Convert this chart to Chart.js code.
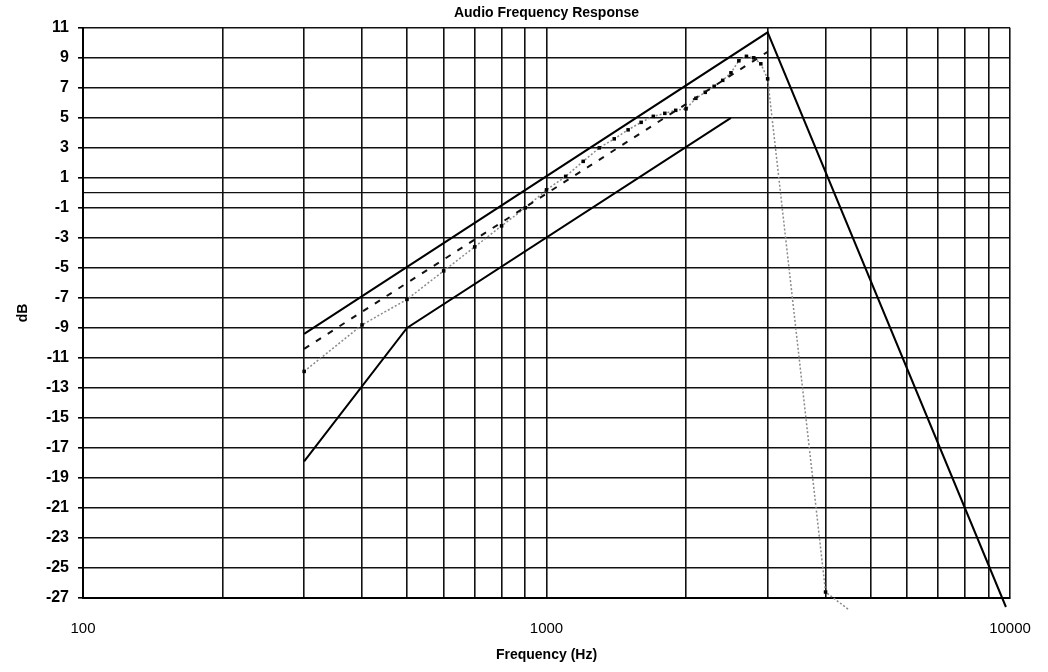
<!DOCTYPE html>
<html>
<head>
<meta charset="utf-8">
<script src="https://cdn.jsdelivr.net/npm/chart.js@4"></script>
<style>
  html, body { margin: 0; padding: 0; background: #fff; }
  #wrap { width: 1048px; height: 672px; position: relative; }
</style>
</head>
<body>
<div id="wrap"><canvas id="myChart"></canvas></div>
<script>
// values
const upperHz = [300, 3000, 9800];
const upperDb = [-9.4, 10.7, -27.6];

const lowerHz = [300, 500, 2500];
const lowerDb = [-17.9, -9.0, 5.0];

const dashedHz = [300, 3000];
const dashedDb = [-10.4, 9.4];

const measuredHz = [300, 400, 500, 600, 700, 800, 900, 1000, 1100, 1200, 1300, 1400, 1500, 1600, 1700, 1800,
  1900, 2000, 2100, 2200, 2300, 2400, 2500, 2600, 2700, 2800, 2900, 3000, 4000, 4500];
const measuredDb = [-11.9, -8.8, -7.1, -5.2, -3.6, -2.2, -1.0, 0.2, 1.1, 2.1, 3.0, 3.6, 4.2, 4.7, 5.1, 5.3,
  5.5, 5.6, 6.3, 6.7, 7.1, 7.5, 8.0, 8.8, 9.1, 9.0, 8.6, 7.6, -26.6, -27.8];

const xTicks = [100, 200, 300, 400, 500, 600, 700, 800, 900, 1000, 2000, 3000, 4000, 5000, 6000, 7000, 8000, 9000, 10000];
const xLabels = [100, 1000, 10000];
const yTicks = [-27, -25, -23, -21, -19, -17, -15, -13, -11, -9, -7, -5, -3, -1, 0, 1, 3, 5, 7, 9, 11];

const pts = (xs, ys) => xs.map((x, i) => ({ x: x, y: ys[i] }));

Chart.defaults.font.family = "'Liberation Sans', Arial, sans-serif";
Chart.defaults.color = '#000';

const ctx = document.getElementById('myChart').getContext('2d');
new Chart(ctx, {
  type: 'line',
  data: {
    datasets: [
      {
        label: 'upper',
        data: pts(upperHz, upperDb),
        borderColor: '#000',
        borderWidth: 2,
        pointRadius: 0,
        clip: false
      },
      {
        label: 'lower',
        data: pts(lowerHz, lowerDb),
        borderColor: '#000',
        borderWidth: 2,
        pointRadius: 0
      },
      {
        label: 'dashed',
        data: pts(dashedHz, dashedDb),
        borderColor: '#111',
        borderWidth: 2,
        borderDash: [6, 8],
        pointRadius: 0
      },
      {
        label: 'measured',
        data: pts(measuredHz, measuredDb),
        borderColor: '#8a8a8a',
        borderWidth: 1.5,
        borderDash: [2, 2],
        pointStyle: 'rect',
        pointRadius: measuredHz.map((f, i) => i === measuredHz.length - 1 ? 0 : 2.5),
        pointBackgroundColor: '#000',
        pointBorderColor: '#000',
        pointBorderWidth: 0,
        clip: false
      }
    ]
  },
  options: {
    responsive: true,
    maintainAspectRatio: false,
    animation: false,
    layout: { padding: { left: 0, right: 38, top: 0, bottom: 0 } },
    plugins: {
      legend: { display: false },
      tooltip: { enabled: false },
      title: {
        display: true,
        fullSize: false,
        text: 'Audio Frequency Response',
        font: { size: 14, weight: 'bold' },
        color: '#000',
        padding: { top: 5, bottom: 6 }
      }
    },
    scales: {
      x: {
        type: 'logarithmic',
        min: 100,
        max: 10000,
        afterBuildTicks: (scale) => { scale.ticks = xTicks.map(v => ({ value: v })); },
        afterFit: (scale) => {
          scale.height = 74;
          scale.paddingLeft = 0;
          scale.paddingRight = 0;
        },
        ticks: {
          autoSkip: false,
          maxRotation: 0,
          padding: 22,
          font: { size: 15 },
          callback: (v) => xLabels.includes(v) ? String(v) : ''
        },
        grid: { color: '#111', lineWidth: 1.6, drawTicks: false },
        border: { color: '#000', width: 2 },
        title: {
          display: true,
          text: 'Frequency (Hz)',
          font: { size: 14, weight: 'bold' },
          padding: { top: 0, bottom: 8 }
        }
      },
      y: {
        type: 'linear',
        min: -27,
        max: 11,
        afterBuildTicks: (scale) => { scale.ticks = yTicks.map(v => ({ value: v })); },
        afterFit: (scale) => { scale.width = 83; },
        ticks: {
          autoSkip: false,
          padding: 9,
          font: { size: 16, weight: 'bold' },
          callback: (v) => v === 0 ? '' : String(v)
        },
        grid: {
          color: '#111',
          lineWidth: (c) => c.tick && c.tick.value === 0 ? 1.2 : 1.6,
          tickLength: 5,
          tickColor: (c) => c.tick && c.tick.value === 0 ? 'rgba(0,0,0,0)' : '#000'
        },
        border: { color: '#000', width: 2 },
        title: {
          display: true,
          text: 'dB',
          font: { size: 14, weight: 'bold' },
          padding: { top: 15, bottom: 0 }
        }
      }
    }
  }
});
</script>
</body>
</html>
